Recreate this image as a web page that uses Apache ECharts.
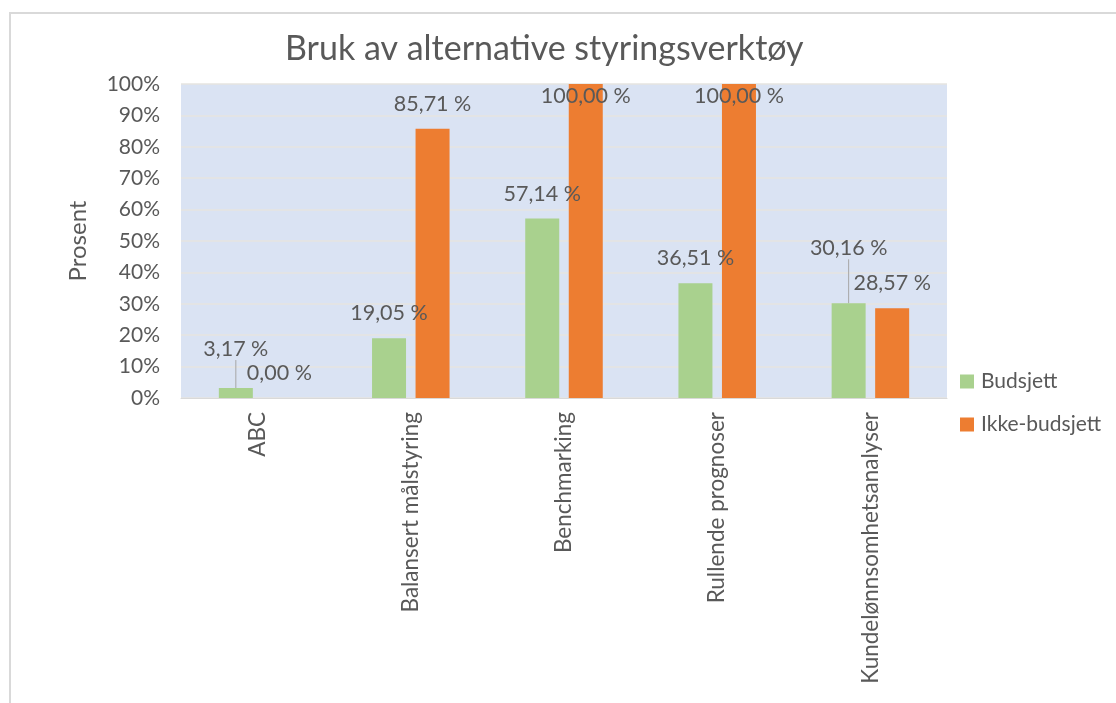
<!DOCTYPE html>
<html>
<head>
<meta charset="utf-8">
<script src="https://cdn.jsdelivr.net/npm/echarts@6/dist/echarts.min.js"></script>
<style>
  html, body { margin: 0; padding: 0; background: #ffffff; }
  #chart { width: 1116px; height: 703px; }
</style>
</head>
<body>
<div id="chart"></div>
<script>
// Chart data
const categories = ['ABC', 'Balansert målstyring', 'Benchmarking', 'Rullende prognoser', 'Kundelønnsomhetsanalyser'];
const budsjett = [3.17, 19.05, 57.14, 36.51, 30.16];
const ikkeBudsjett = [0.00, 85.71, 100.00, 100.00, 28.57];
const yTicks = [0, 10, 20, 30, 40, 50, 60, 70, 80, 90, 100];

const FONT = 'Lato, "Open Sans", sans-serif';
const TEXT = '#595959';

const fmtPct = v => v.toFixed(2).replace('.', ',') + ' %';

// Labels lifted above crowded bars, joined back to the bar with a leader line
const budsjettLift = { 0: -14, 4: -30 };
const budsjettData = budsjett.map((v, i) => budsjettLift[i]
  ? { value: v, labelLine: { show: true, lineStyle: { color: '#a6a6a6', width: 1 } } }
  : v);

// Bars that reach the top of the axis keep their label inside the bar
const ikkeData = ikkeBudsjett.map(v => v >= 100
  ? { value: v, label: { position: 'insideTop', distance: 1 } }
  : v);

const chart = echarts.init(document.getElementById('chart'), null, { renderer: 'canvas' });

chart.setOption({
  backgroundColor: '#ffffff',
  animation: false,
  textStyle: { fontFamily: FONT, color: TEXT },
  graphic: [{
    type: 'rect',
    shape: { x: 10, y: 13, width: 1200, height: 800 },
    style: { fill: 'none', stroke: '#d9d9d9', lineWidth: 2 },
    silent: true
  }],
  title: {
    text: 'Bruk av alternative styringsverktøy',
    left: 280,
    top: 27,
    textStyle: { fontFamily: FONT, fontSize: 34, fontWeight: 'normal', color: TEXT }
  },
  legend: {
    orient: 'vertical',
    left: 955,
    top: 366,
    itemWidth: 14,
    itemHeight: 14,
    itemGap: 22,
    icon: 'rect',
    textStyle: { fontFamily: FONT, fontSize: 21, color: TEXT, padding: [0, 0, 0, 2] },
    data: ['Budsjett', 'Ikke-budsjett']
  },
  grid: {
    left: 181,
    right: 169,
    top: 84,
    bottom: 305,
    show: true,
    backgroundColor: '#dae3f3',
    borderWidth: 0
  },
  xAxis: {
    type: 'category',
    data: categories,
    axisTick: { show: false },
    axisLine: { show: true, lineStyle: { color: '#d9d9d9', width: 1 } },
    axisLabel: {
      rotate: 90,
      margin: 14,
      interval: 0,
      fontFamily: FONT,
      fontSize: 22.5,
      color: TEXT
    }
  },
  yAxis: {
    type: 'value',
    min: 0,
    max: 100,
    interval: 10,
    name: 'Prosent',
    nameLocation: 'middle',
    nameGap: 91,
    nameRotate: 90,
    nameTextStyle: { fontFamily: FONT, fontSize: 24, color: TEXT },
    axisLine: { show: false },
    axisTick: { show: false },
    axisLabel: {
      margin: 21,
      fontFamily: FONT,
      fontSize: 21,
      color: TEXT,
      formatter: v => (yTicks.includes(v) ? v + '%' : '')
    },
    splitLine: { show: true, lineStyle: { color: '#e6e4e0', width: 1.5 } }
  },
  series: [
    {
      name: 'Budsjett',
      type: 'bar',
      data: budsjettData,
      barWidth: 34,
      barGap: '28%',
      itemStyle: { color: '#a9d18e' },
      label: {
        show: true,
        position: 'top',
        distance: 14,
        fontFamily: FONT,
        fontSize: 21.5,
        color: TEXT,
        formatter: p => fmtPct(p.value)
      },
      labelLine: { show: false },
      labelLayout: p => (budsjettLift[p.dataIndex] ? { dy: budsjettLift[p.dataIndex] } : {})
    },
    {
      name: 'Ikke-budsjett',
      type: 'bar',
      data: ikkeData,
      barWidth: 34,
      barGap: '28%',
      itemStyle: { color: '#ed7d31' },
      label: {
        show: true,
        position: 'top',
        distance: 14,
        fontFamily: FONT,
        fontSize: 21.5,
        color: TEXT,
        formatter: p => fmtPct(p.value)
      }
    }
  ]
});
</script>
</body>
</html>
